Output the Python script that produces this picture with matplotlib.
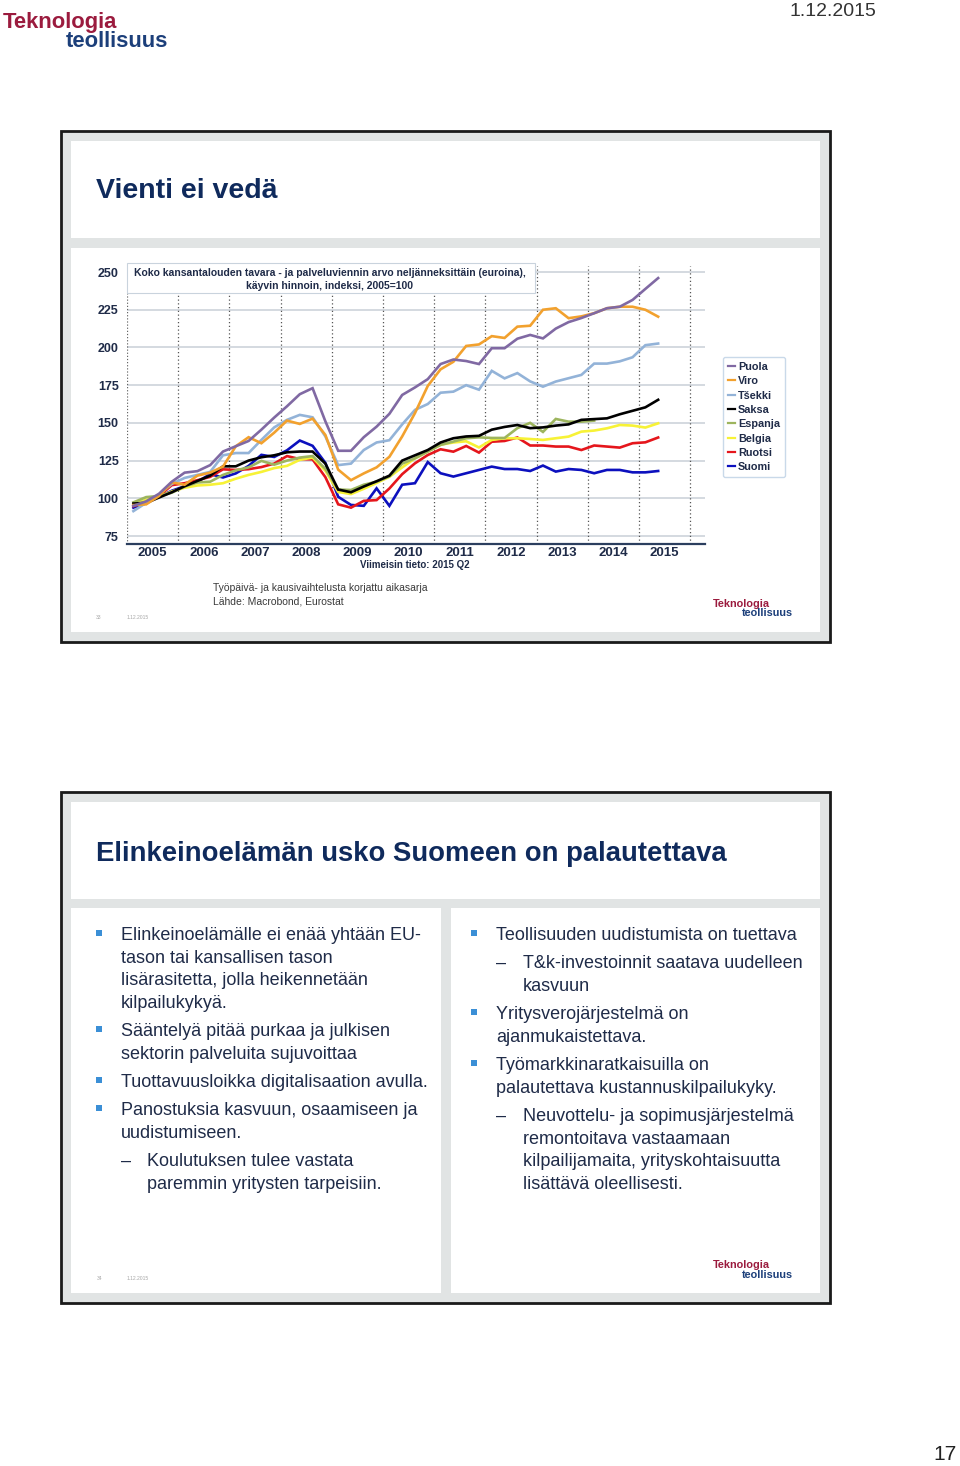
import matplotlib
matplotlib.use('Agg')
import matplotlib.pyplot as plt
from matplotlib.patches import Rectangle

# ---- data (index, 2005=100), quarterly 2005Q1 .. 2015Q2
quarters = [2005.125 + 0.25 * i for i in range(42)]
years = [2005, 2006, 2007, 2008, 2009, 2010, 2011, 2012, 2013, 2014, 2015]
yticks = [75, 100, 125, 150, 175, 200, 225, 250]

puola = [95, 98, 103, 111, 117, 118, 122, 131, 134.5, 138, 145.5, 153.5, 161, 169, 173, 151, 131.5, 131.5, 140.5, 147.5, 156, 168.5, 173.5, 179, 189, 192, 191, 189, 199.5, 199.5, 205.8, 208.3, 206, 212.5, 216.8, 219.5, 222.7, 226, 227, 231.5, 238.8, 246]
viro = [95.5, 96, 101.5, 110.5, 109, 115, 117, 121, 134.5, 140.5, 136.5, 143.5, 151.5, 149.3, 152.8, 142, 119, 112, 116.5, 120.5, 127.5, 141, 156.5, 174.5, 185.5, 190.5, 201, 202, 207.5, 206.3, 213.8, 214.4, 225, 226, 219.4, 220.6, 222.7, 226, 227, 227, 225, 220.4]
tsekki = [91.5, 97, 102.5, 109.5, 113.5, 115.5, 117.5, 128.5, 130, 130, 138.7, 147, 152, 155.3, 153.7, 141, 122, 123, 132, 137, 138.5, 149, 158.6, 162.5, 170, 170.7, 175, 172, 184.5, 179.5, 183, 177.5, 174, 177.4, 179.6, 181.8, 189.3, 189.3, 190.8, 193.5, 201.5, 202.6]
saksa = [96.5, 97, 100.5, 104, 108, 111.5, 115, 121.2, 121.2, 125, 127.2, 128.5, 130.5, 131, 131, 123, 105.8, 104, 107.8, 111.3, 115, 125, 128.5, 132, 137, 139.8, 141, 141.4, 145.5, 147.3, 148.6, 146.5, 147, 148.2, 149, 152, 152.5, 153, 155.7, 158, 160.3, 165.3]
espanja = [97.3, 100.8, 101.5, 103.7, 107.8, 110.5, 111, 115.5, 118.5, 120.5, 124.8, 122.3, 125, 127, 128, 119.5, 105.8, 105.5, 109, 111, 114.5, 123, 126.5, 131, 135.4, 137.6, 139.8, 140.4, 140, 140, 146.5, 150, 144, 152.6, 150.8, 150.8, 151.5]
belgia = [96, 99, 101, 104.5, 107, 108.5, 109, 110, 113, 115.5, 117.5, 120, 121.5, 125.5, 127, 118.3, 104.2, 102.8, 106.3, 110.2, 114.2, 120.5, 126.5, 131, 135.5, 137, 137.8, 133.7, 138.7, 139.8, 139.8, 139.3, 138.7, 139.8, 140.9, 144.2, 144.9, 146.4, 148.6, 148.2, 146.9, 149.7]
ruotsi = [94.8, 97.5, 101.5, 108.7, 110, 112, 114.2, 119.2, 118.8, 119.3, 120.7, 123, 128, 126, 125.8, 114, 96, 93.8, 98.3, 98.8, 106.5, 116, 123.2, 128.7, 132.5, 130.9, 134.7, 130.3, 137.5, 138, 140.3, 135, 135, 134.3, 134.3, 132, 135, 134.3, 133.6, 136.5, 137.1, 140.3]
suomi = [93.8, 96.7, 101, 105, 108, 111, 116, 113.8, 116.5, 121.5, 128.8, 127.4, 131.8, 138.3, 134.8, 123.5, 101, 95.6, 95, 106.6, 95, 109, 110, 124, 116.6, 114.4, 116.6, 118.8, 121, 119.4, 119.4, 118.1, 121.7, 117.7, 119.4, 118.8, 116.6, 118.8, 118.8, 117.2, 117.2, 118.1]

series = [('Puola', puola, '#8069A3'), ('Viro', viro, '#F2A12E'), ('Tšekki', tsekki, '#93B3D8'),
          ('Saksa', saksa, '#000000'), ('Espanja', espanja, '#9DB55E'), ('Belgia', belgia, '#F7F236'),
          ('Ruotsi', ruotsi, '#E5161C'), ('Suomi', suomi, '#0C10BE')]

W, H = 960, 1466
SANS = ['Liberation Sans', 'DejaVu Sans']
NAVY = '#0F2A5C'
TXT = '#1F2B48'
RED = '#9B1B3E'
LOGOBLUE = '#1C3F7A'

fig = plt.figure(figsize=(W / 100, H / 100), dpi=100)
bg = fig.add_axes([0, 0, 1, 1])
bg.set_xlim(0, W)
bg.set_ylim(H, 0)
bg.axis('off')


def txt(x, y, s, size, color=TXT, weight='normal', ha='left', va='baseline'):
    bg.text(x, y, s, fontsize=size, color=color, fontweight=weight, ha=ha, va=va, family=SANS)


def box(x0, y0, x1, y1, fc, ec='none', lw=0):
    bg.add_patch(Rectangle((x0, y0), x1 - x0, y1 - y0, facecolor=fc, edgecolor=ec, linewidth=lw))


def logo(x, y, size, x2, dy):
    txt(x, y, 'Teknologia', size, RED, 'bold')
    txt(x2, y + dy, 'teollisuus', size, LOGOBLUE, 'bold', ha='right')


# page header
logo(3, 28, 15.8, 168, 19)
txt(876, 12, '1.12.2015', 14, '#333333', ha='right', va='center')
txt(957, 1455, '17', 15, '#222222', ha='right', va='center')

# slide frames
for top in (131, 792):
    box(61, top, 830, top + 511, '#E1E4E4', '#1A1A1A', 2)
    box(71, top + 10, 820, top + 107, 'white')

box(71, 248, 820, 632, 'white')
box(71, 908, 441, 1293, 'white')
box(451, 908, 820, 1293, 'white')

# ---- slide 1
txt(96, 198, 'Vienti ei vedä', 20.5, NAVY, 'bold')

ax = fig.add_axes([127 / W, 1 - 544 / H, 578 / W, (544 - 266) / H])
ax.set_xlim(2005.0, 2016.29)
ax.set_ylim(69.7, 254)
for y in yticks:
    ax.axhline(y, color='#CDD3DA', lw=1.2, zorder=1)
for yr in years[1:] + [2016]:
    ax.axvline(yr, color='#555555', lw=0.9, ls=(0, (1, 2)), zorder=1)
ax.axvline(2005.0, color='#666666', lw=0.9, ls=(0, (1, 1.5)), zorder=1)

n = len(series)
for k, (name, vals, col) in enumerate(series):
    ax.plot(quarters[:len(vals)], vals, color=col, lw=1.9, label=name, zorder=10 + n - k,
            solid_joinstyle='miter')

ax.set_facecolor('none')
for s in ('top', 'right', 'left'):
    ax.spines[s].set_visible(False)
ax.spines['bottom'].set_color('#2B3E5E')
ax.spines['bottom'].set_linewidth(1.6)
ax.set_yticks(yticks)
ax.set_yticklabels([str(v) for v in yticks], fontsize=9, fontweight='bold', color=TXT, family=SANS)
ax.set_xticks([y + 0.5 for y in years])
ax.set_xticklabels([str(y) for y in years], fontsize=9.5, fontweight='bold', color=TXT, family=SANS)
ax.tick_params(axis='y', length=0, pad=6)
ax.tick_params(axis='x', length=0, pad=2.5)

leg = ax.legend(loc='upper left', bbox_to_anchor=(723, 357), bbox_transform=bg.transData,
                frameon=True, fancybox=True, edgecolor='#BCD0E4', fontsize=7.8,
                handlelength=0.7, handletextpad=0.25, labelspacing=0.4, borderpad=0.45,
                borderaxespad=0)
leg.get_frame().set_linewidth(1.0)
for t in leg.get_texts():
    t.set_fontweight('bold')
    t.set_color(TXT)
    t.set_family(SANS)
for h in leg.get_lines():
    h.set_linewidth(1.6)

ax.add_patch(Rectangle((127, 263), 408, 30, transform=bg.transData, facecolor='white',
                       edgecolor='#C9D3DD', lw=0.8, clip_on=False, zorder=30))
ax.text(330, 279.5, 'Koko kansantalouden tavara - ja palveluviennin arvo neljänneksittäin (euroina),\n'
        'käyvin hinnoin, indeksi, 2005=100', transform=bg.transData, ha='center', va='center',
        fontsize=7.5, fontweight='bold', color=TXT, family=SANS, linespacing=1.4, zorder=31)

txt(415, 568, 'Viimeisin tieto: 2015 Q2', 7, TXT, 'bold', ha='center')
txt(213, 591, 'Työpäivä- ja kausivaihtelusta korjattu aikasarja', 7.5, '#3A3A3A')
txt(213, 605, 'Lähde: Macrobond, Eurostat', 7.5, '#3A3A3A')
txt(96, 619, '33', 3.6, '#A8A8A8')
txt(127, 619, '1.12.2015', 3.6, '#A8A8A8')
logo(713, 607, 7.8, 793, 9.5)

# ---- slide 2
txt(96, 861, 'Elinkeinoelämän usko Suomeen on palautettava', 19.8, NAVY, 'bold')

left_items = [
    ('b', 'Elinkeinoelämälle ei enää yhtään EU-', 934),
    ('', 'tason tai kansallisen tason', 957),
    ('', 'lisärasitetta, jolla heikennetään', 979),
    ('', 'kilpailukykyä.', 1002),
    ('b', 'Sääntelyä pitää purkaa ja julkisen', 1030),
    ('', 'sektorin palveluita sujuvoittaa', 1053),
    ('b', 'Tuottavuusloikka digitalisaation avulla.', 1081),
    ('b', 'Panostuksia kasvuun, osaamiseen ja', 1109),
    ('', 'uudistumiseen.', 1132),
    ('d', 'Koulutuksen tulee vastata', 1160),
    ('s', 'paremmin yritysten tarpeisiin.', 1183),
]
right_items = [
    ('b', 'Teollisuuden uudistumista on tuettava', 934),
    ('d', 'T&k-investoinnit saatava uudelleen', 962),
    ('s', 'kasvuun', 985),
    ('b', 'Yritysverojärjestelmä on', 1013),
    ('', 'ajanmukaistettava.', 1036),
    ('b', 'Työmarkkinaratkaisuilla on', 1064),
    ('', 'palautettava kustannuskilpailukyky.', 1087),
    ('d', 'Neuvottelu- ja sopimusjärjestelmä', 1115),
    ('s', 'remontoitava vastaamaan', 1138),
    ('s', 'kilpailijamaita, yrityskohtaisuutta', 1160),
    ('s', 'lisättävä oleellisesti.', 1183),
]


def column(items, xb, xt, xs):
    for kind, s, y in items:
        base = y + 6
        if kind == 'b':
            box(xb - 3, y - 4, xb + 3, y + 2, '#3B8FD6')
        if kind == 'd':
            txt(xt, base, '–', 13, TXT)
        x = xs if kind in ('d', 's') else xt
        txt(x, base, s, 13, TXT)


column(left_items, 99, 121, 147)
column(right_items, 474, 496, 523)

txt(97, 1280, '34', 3.6, '#A8A8A8')
txt(127, 1280, '1.12.2015', 3.6, '#A8A8A8')
logo(713, 1268, 7.8, 793, 9.5)

fig.savefig('out.png', dpi=100)
